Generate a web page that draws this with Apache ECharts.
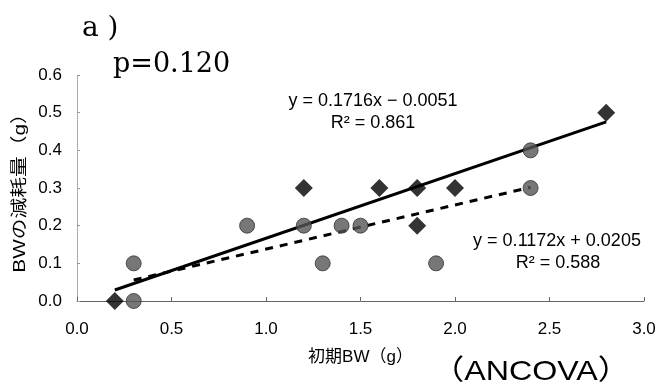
<!DOCTYPE html>
<html>
<head>
<meta charset="utf-8">
<script src="https://cdn.jsdelivr.net/npm/echarts@6/dist/echarts.min.js"></script>
<style>html,body{margin:0;padding:0;background:#fff;}#c{width:660px;height:390px;}</style>
</head>
<body>
<div id="c"></div>
<script>
// Diamonds (solid trend line)
const bwDiamond = [0.2, 1.2, 1.6, 1.8, 1.8, 2.0, 2.8];
const lossDiamond = [0.0, 0.3, 0.3, 0.3, 0.2, 0.3, 0.5];
// Circles (dashed trend line)
const bwCircle = [0.3, 0.3, 0.9, 1.2, 1.3, 1.4, 1.5, 1.9, 2.4, 2.4];
const lossCircle = [0.1, 0.0, 0.2, 0.2, 0.1, 0.2, 0.2, 0.1, 0.4, 0.3];
// Trend equations as printed on the chart
const trendDiamond = { slope: 0.1716, intercept: -0.0051, r2: '0.861' };
const trendCircle = { slope: 0.1172, intercept: 0.0205, r2: '0.588' };
const xTicks = ['0.0', '0.5', '1.0', '1.5', '2.0', '2.5', '3.0'];
const yTicks = ['0.0', '0.1', '0.2', '0.3', '0.4', '0.5', '0.6'];

function pairs(xs, ys) { return xs.map((x, i) => [x, ys[i]]); }
function trendLine(xs, t) {
  const lo = Math.min(...xs), hi = Math.max(...xs);
  return [[lo, t.slope * lo + t.intercept], [hi, t.slope * hi + t.intercept]];
}
function fmtEq(t) {
  const s = t.intercept < 0 ? ' − ' : ' + ';
  return 'y = ' + t.slope.toFixed(4) + 'x' + s + Math.abs(t.intercept).toFixed(4);
}

const sans = "'Liberation Sans', Arial, 'Noto Sans CJK JP', sans-serif";
const chart = echarts.init(document.getElementById('c'), null, { renderer: 'canvas' });
chart.setOption({
  backgroundColor: '#fff',
  animation: false,
  grid: { left: 77, right: 16, top: 75, bottom: 89 },
  xAxis: {
    type: 'value', min: 0, max: 3, interval: 0.5,
    name: '初期BW（g）', nameLocation: 'middle', nameGap: 48,
    nameTextStyle: { fontFamily: sans, fontSize: 17, color: '#000' },
    axisLine: { lineStyle: { color: '#666', width: 1 } },
    axisTick: { inside: true, length: 4, lineStyle: { color: '#666' } },
    axisLabel: { margin: 20, fontFamily: sans, fontSize: 17, color: '#000',
      formatter: (v) => xTicks[Math.round(v / 0.5)] },
    splitLine: { show: false }
  },
  yAxis: {
    type: 'value', min: 0, max: 0.6, interval: 0.1,
    axisLine: { show: true, lineStyle: { color: '#999', width: 1, type: 'dotted' } },
    axisTick: { show: true, inside: true, length: 3, lineStyle: { color: '#999' } },
    axisLabel: { margin: 15, fontFamily: sans, fontSize: 17, color: '#000',
      formatter: (v) => yTicks[Math.round(v / 0.1)] },
    splitLine: { show: false }
  },
  series: [
    { type: 'line', data: trendLine(bwDiamond, trendDiamond), symbol: 'none', z: 2,
      lineStyle: { color: '#000', width: 3, type: 'solid' } },
    { type: 'line', data: trendLine(bwCircle, trendCircle), symbol: 'none', z: 2,
      lineStyle: { color: '#000', width: 3, type: [8, 7] } },
    { type: 'scatter', data: pairs(bwCircle, lossCircle), symbol: 'circle', symbolSize: 15, z: 3,
      itemStyle: { color: '#555', borderColor: '#333', borderWidth: 1 } },
    { type: 'scatter', data: pairs(bwDiamond, lossDiamond), symbol: 'diamond', symbolSize: 18, z: 4,
      itemStyle: { color: '#000' } }
  ],
  graphic: [
    { type: 'text', x: 82, y: 29, style: { text: 'a )', fontFamily: "'DejaVu Serif', serif", fontSize: 28, fill: '#000', textVerticalAlign: 'middle' } },
    { type: 'text', x: 113, y: 65, style: { text: 'p=0.120', fontFamily: "'DejaVu Serif', serif", fontSize: 27, fill: '#000', textVerticalAlign: 'middle' } },
    { type: 'text', x: 373, y: 101, style: { text: fmtEq(trendDiamond), fontFamily: sans, fontSize: 18, fill: '#000', textAlign: 'center', textVerticalAlign: 'middle' } },
    { type: 'text', x: 373, y: 123, style: { text: 'R² = ' + trendDiamond.r2, fontFamily: sans, fontSize: 18, fill: '#000', textAlign: 'center', textVerticalAlign: 'middle' } },
    { type: 'text', x: 557, y: 241, style: { text: fmtEq(trendCircle), fontFamily: sans, fontSize: 18, fill: '#000', textAlign: 'center', textVerticalAlign: 'middle' } },
    { type: 'text', x: 558, y: 263, style: { text: 'R² = ' + trendCircle.r2, fontFamily: sans, fontSize: 18, fill: '#000', textAlign: 'center', textVerticalAlign: 'middle' } },
    { type: 'text', x: 20, y: 188, rotation: Math.PI / 2, scaleX: 1.22, style: { text: 'BWの減耗量（g）', fontFamily: sans, fontSize: 17, fill: '#000', textAlign: 'center', textVerticalAlign: 'middle' } },
    { type: 'text', x: 531, y: 372, scaleX: 1.15, style: { text: '（ANCOVA）', fontFamily: sans, fontSize: 28, fill: '#000', textAlign: 'center', textVerticalAlign: 'middle' } }
  ]
});
</script>
</body>
</html>
